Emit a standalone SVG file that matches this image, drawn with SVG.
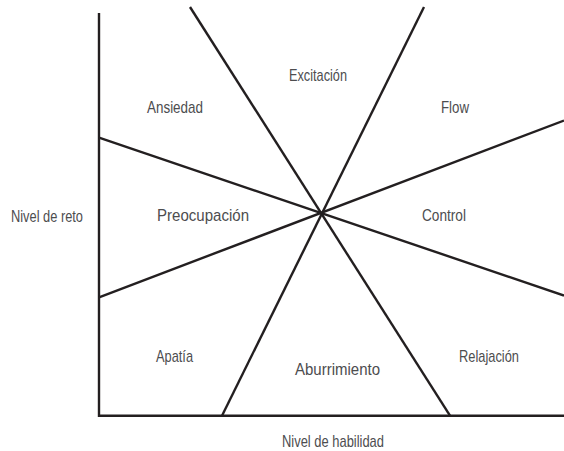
<svg xmlns="http://www.w3.org/2000/svg" width="564" height="451" viewBox="0 0 564 451">
<style>
.ln{stroke:#231f20;stroke-width:2.4;fill:none;stroke-linecap:butt}
.t{font-family:"Liberation Sans",Arial,sans-serif;font-size:17px;fill:#4d4d4f}
</style>
<rect width="564" height="451" fill="#fff"/>
<g id="connectors">
<path class="ln" d="M99,13 V415.7 H564"/>
<line class="ln" x1="190" y1="7" x2="450" y2="415.7"/>
<line class="ln" x1="424" y1="7" x2="222" y2="415.7"/>
<line class="ln" x1="99" y1="137.7" x2="564" y2="295.5"/>
<line class="ln" x1="99" y1="297.3" x2="564" y2="120.5"/>
</g>
<g id="ansiedad"><text class="t" x="147" y="113" textLength="56" lengthAdjust="spacingAndGlyphs">Ansiedad</text></g>
<g id="excitacion"><text class="t" x="289" y="80.5" textLength="58" lengthAdjust="spacingAndGlyphs">Excitación</text></g>
<g id="flow"><text class="t" x="441" y="113" textLength="28" lengthAdjust="spacingAndGlyphs">Flow</text></g>
<g id="preocupacion"><text class="t" x="157" y="220.7" textLength="92" lengthAdjust="spacingAndGlyphs">Preocupación</text></g>
<g id="control"><text class="t" x="422" y="220.7" textLength="44" lengthAdjust="spacingAndGlyphs">Control</text></g>
<g id="apatia"><text class="t" x="156" y="361.7" textLength="37" lengthAdjust="spacingAndGlyphs">Apatía</text></g>
<g id="aburrimiento"><text class="t" x="295" y="375" textLength="85" lengthAdjust="spacingAndGlyphs">Aburrimiento</text></g>
<g id="relajacion"><text class="t" x="459" y="361.7" textLength="60" lengthAdjust="spacingAndGlyphs">Relajación</text></g>
<g id="nivel-reto"><text class="t" x="11" y="222" textLength="72" lengthAdjust="spacingAndGlyphs">Nivel de reto</text></g>
<g id="nivel-habilidad"><text class="t" x="282" y="446.5" textLength="102" lengthAdjust="spacingAndGlyphs">Nivel de habilidad</text></g>
</svg>
